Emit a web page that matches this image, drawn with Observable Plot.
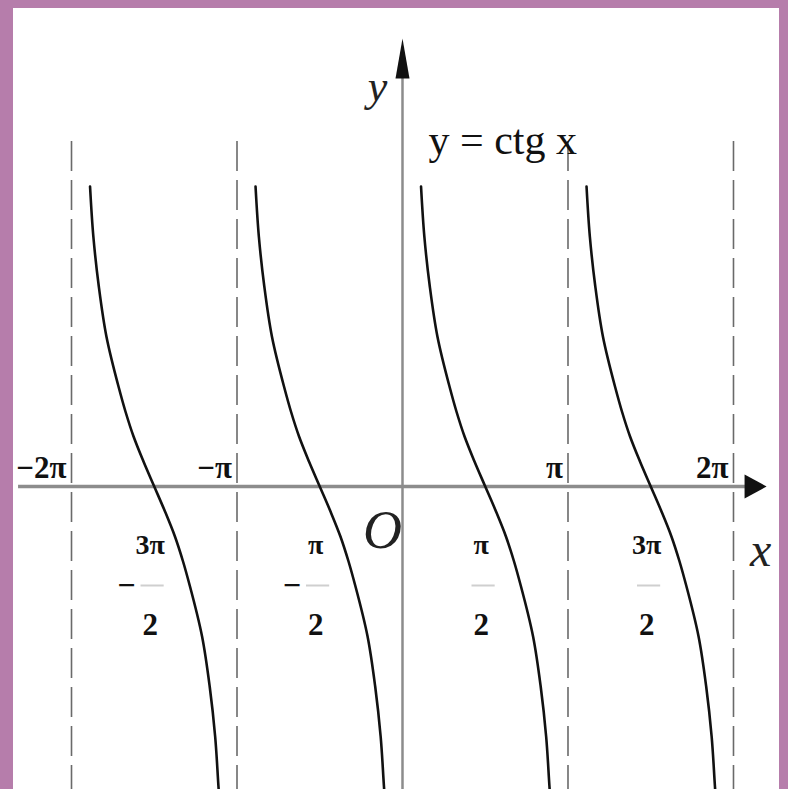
<!DOCTYPE html>
<html>
<head>
<meta charset="utf-8">
<script src="https://cdn.jsdelivr.net/npm/d3@7"></script>
<script src="https://cdn.jsdelivr.net/npm/@observablehq/plot@0.6"></script>
<style>
  html, body { margin: 0; padding: 0; }
  body { width: 788px; height: 789px; overflow: hidden; background: #b67dab; position: relative; }
  #chart { position: absolute; left: 13px; top: 8px; width: 766px; height: 781px; background: #fff; }
  #chart svg { background: transparent; display: block; }
</style>
</head>
<body>
<div id="chart"></div>
<script>
// x in units of π, y in function units
const yLevels = [3, 2.5, 2, 1.5, 1, 0.75, 0.5, 0.25, 0, -0.25, -0.5, -0.75, -1, -1.5, -2, -2.5, -3, -3.1];
const branch1X = [-1.888, -1.868, -1.835, -1.789, -1.716, -1.674, -1.625, -1.565, -1.500, -1.435, -1.375, -1.326, -1.284, -1.211, -1.165, -1.132, -1.112, -1.108];
const branch2X = [-0.888, -0.868, -0.835, -0.789, -0.716, -0.674, -0.625, -0.565, -0.500, -0.435, -0.375, -0.326, -0.284, -0.211, -0.165, -0.132, -0.112, -0.108];
const branch3X = [0.112, 0.132, 0.165, 0.211, 0.284, 0.326, 0.375, 0.435, 0.500, 0.565, 0.625, 0.674, 0.716, 0.789, 0.835, 0.868, 0.888, 0.892];
const branch4X = [1.112, 1.132, 1.165, 1.211, 1.284, 1.326, 1.375, 1.435, 1.500, 1.565, 1.625, 1.674, 1.716, 1.789, 1.835, 1.868, 1.888, 1.892];

const asymptotes = [-2, -1, 1, 2];
const tickLabelsTop = ["−2π", "−π", "π", "2π"];
const halfTicks = [-1.5, -0.5, 0.5, 1.5];
const numerators = ["3π", "π", "π", "3π"];
const denominators = ["2", "2", "2", "2"];
const negativeHalf = [-1.5, -0.5];

const xMin = -2.3505, xMax = 2.278;
const yMin = -3.03, yMax = 4.78;
const xAxisStart = -2.32, xAxisEnd = 2.2;
const yAxisTop = 4.48, asymTop = 3.45;

const curveData = [];
[branch1X, branch2X, branch3X, branch4X].forEach((xs, b) => {
  xs.forEach((x, i) => curveData.push({branch: b, x, y: yLevels[i]}));
});

const arrowRight = { draw(ctx) { ctx.moveTo(0, 0); ctx.lineTo(-22, -12); ctx.lineTo(-22, 12); ctx.closePath(); } };
const arrowUp = { draw(ctx) { ctx.moveTo(0, 0); ctx.lineTo(-7, 40); ctx.lineTo(7, 40); ctx.closePath(); } };

const serif = "Liberation Serif, DejaVu Serif, serif";

const plot = Plot.plot({
  width: 766,
  height: 781,
  margin: 0,
  x: { domain: [xMin, xMax], axis: null },
  y: { domain: [yMin, yMax], axis: null },
  marks: [
    // asymptotes
    Plot.ruleX(asymptotes, { x: d => d, y1: asymTop, y2: yMin - 0.2, stroke: "#6a6a6a", strokeWidth: 1.6, strokeDasharray: "30,9" }),
    // x axis
    Plot.ruleY([0], { x1: xAxisStart, x2: xAxisEnd - 0.05, stroke: "#8c8c8c", strokeWidth: 3.5 }),
    // y axis
    Plot.ruleX([0], { y1: yMin - 0.2, y2: yAxisTop - 0.1, stroke: "#8c8c8c", strokeWidth: 2.5 }),
    Plot.dot([xAxisEnd], { x: d => d, y: 0, symbol: arrowRight, fill: "#111", stroke: "none" }),
    Plot.dot([yAxisTop], { x: 0, y: d => d, symbol: arrowUp, fill: "#111", stroke: "none" }),
    // curves
    Plot.line(curveData, { x: "x", y: "y", z: "branch", curve: "monotone-y", stroke: "#111", strokeWidth: 2.6, clip: true }),
    // tick labels above the axis
    Plot.text(asymptotes, { x: d => d, y: 0, text: (d, i) => tickLabelsTop[i], textAnchor: "end", lineAnchor: "bottom", dx: -5, dy: -9, fontSize: 31, fontWeight: "bold", fontFamily: serif, fill: "#111" }),
    // fractions below the axis
    Plot.text(halfTicks, { x: d => d, y: 0, text: (d, i) => numerators[i], dx: -4, dy: 59, fontSize: 28, fontWeight: "bold", fontFamily: serif, fill: "#111" }),
    Plot.ruleY(halfTicks, { y: 0, dy: 99, x1: d => d - 0.08, x2: d => d + 0.06, stroke: "#cfcfcf", strokeWidth: 2 }),
    Plot.text(halfTicks, { x: d => d, y: 0, text: (d, i) => denominators[i], dx: -4, dy: 139, fontSize: 31, fontWeight: "bold", fontFamily: serif, fill: "#111" }),
    Plot.text(negativeHalf, { x: d => d, y: 0, text: () => "−", dx: -28, dy: 99, fontSize: 32, fontWeight: "bold", fontFamily: serif, fill: "#111" }),
    // origin, axis names, formula
    Plot.text(["O"], { x: 0, y: 0, text: d => d, dx: -20, dy: 44, fontSize: 54, fontStyle: "italic", fontFamily: serif, fill: "#222" }),
    Plot.text(["x"], { x: xAxisEnd, y: 0, text: d => d, dx: -6, dy: 64, fontSize: 48, fontStyle: "italic", fontFamily: serif, fill: "#222" }),
    Plot.text(["y"], { x: 0, y: yAxisTop, text: d => d, dx: -25, dy: 48, fontSize: 44, fontStyle: "italic", fontFamily: serif, fill: "#222" }),
    Plot.text(["y = ctg x"], { x: 0, y: yAxisTop, text: d => d, textAnchor: "start", dx: 26, dy: 102, fontSize: 42, fontFamily: serif, fill: "#111" })
  ]
});
document.getElementById("chart").appendChild(plot);
</script>
</body>
</html>
